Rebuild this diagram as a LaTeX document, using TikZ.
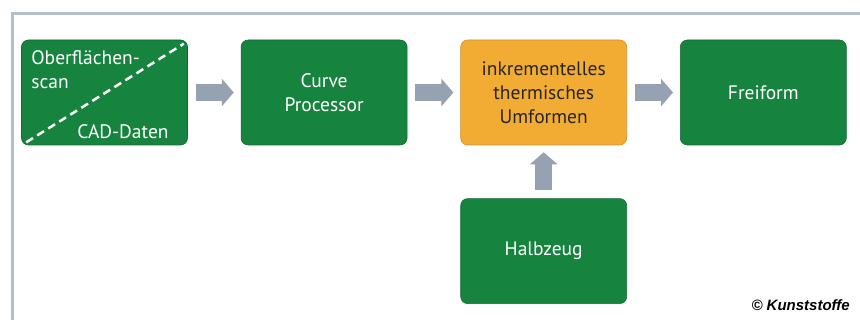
\documentclass[tikz,border=0pt]{standalone}
\usepackage{fontspec}
\setmainfont{PT Sans}
\newfontfamily\creditfont{Liberation Sans}
\usetikzlibrary{arrows.meta, positioning}

\definecolor{boxgreen}{RGB}{22,132,62}
\definecolor{boxorange}{RGB}{242,172,52}
\definecolor{arrgray}{RGB}{150,162,178}
\definecolor{framegray}{RGB}{178,192,206}

\begin{document}
\begin{tikzpicture}[
    x=1pt, y=1pt,
    node distance=53pt and 53pt,
    box/.style={rounded corners=7pt, minimum width=166pt, minimum height=105pt, align=center,
      font=\fontsize{19.5}{24}\selectfont, text=white, fill=boxgreen, draw=boxgreen!80!black, line width=0.6pt},
    warm/.style={box, fill=boxorange, draw=boxorange!85!black, text=black!85},
    boxtext/.style={inner sep=0pt, text=white, font=\fontsize{19.5}{24}\selectfont},
    arr/.style={-{Triangle[width=27pt, length=12pt]}, line width=17pt, draw=arrgray, shorten <=8pt, shorten >=7pt},
  ]
    \useasboundingbox (0,0) rectangle (860,-320);
    \draw[framegray, line width=3pt] (860,-14) -- (12,-14) -- (12,-320);

    \node[box] (scan) at (104.5,-92.5) {};
    \node[box, right=of scan] (curve) {Curve\\Processor};
    \node[warm, right=of curve] (itu) {inkrementelles\\thermisches\\Umformen};
    \node[box, right=of itu] (freiform) {Freiform};
    \node[box, below=of itu] (halbzeug) {Halbzeug};

    % geteiltes Feld: Scan / CAD
    \draw[white, line width=2.5pt, dash pattern=on 8pt off 5pt]
      ([shift={(5,3)}]scan.south west) -- ([shift={(-4,-4)}]scan.north east);
    \node[boxtext, anchor=north west, align=left] (scantxt) at ([shift={(10,-11)}]scan.north west) {Oberflächen-\\scan};
    \node[boxtext, anchor=base east] (cadtxt) at ([shift={(-19,7)}]scan.south east) {CAD-Daten};

    \draw[arr] (scan) -- (curve);
    \draw[arr] (curve) -- (itu);
    \draw[arr] (itu) -- (freiform);
    \draw[arr] (halbzeug) -- (itu);

    \node[anchor=base east, inner sep=0pt, font=\creditfont\bfseries\itshape\fontsize{15}{17}\selectfont] (credit) at (850,-311) {© Kunststoffe};
  \end{tikzpicture}
\end{document}
